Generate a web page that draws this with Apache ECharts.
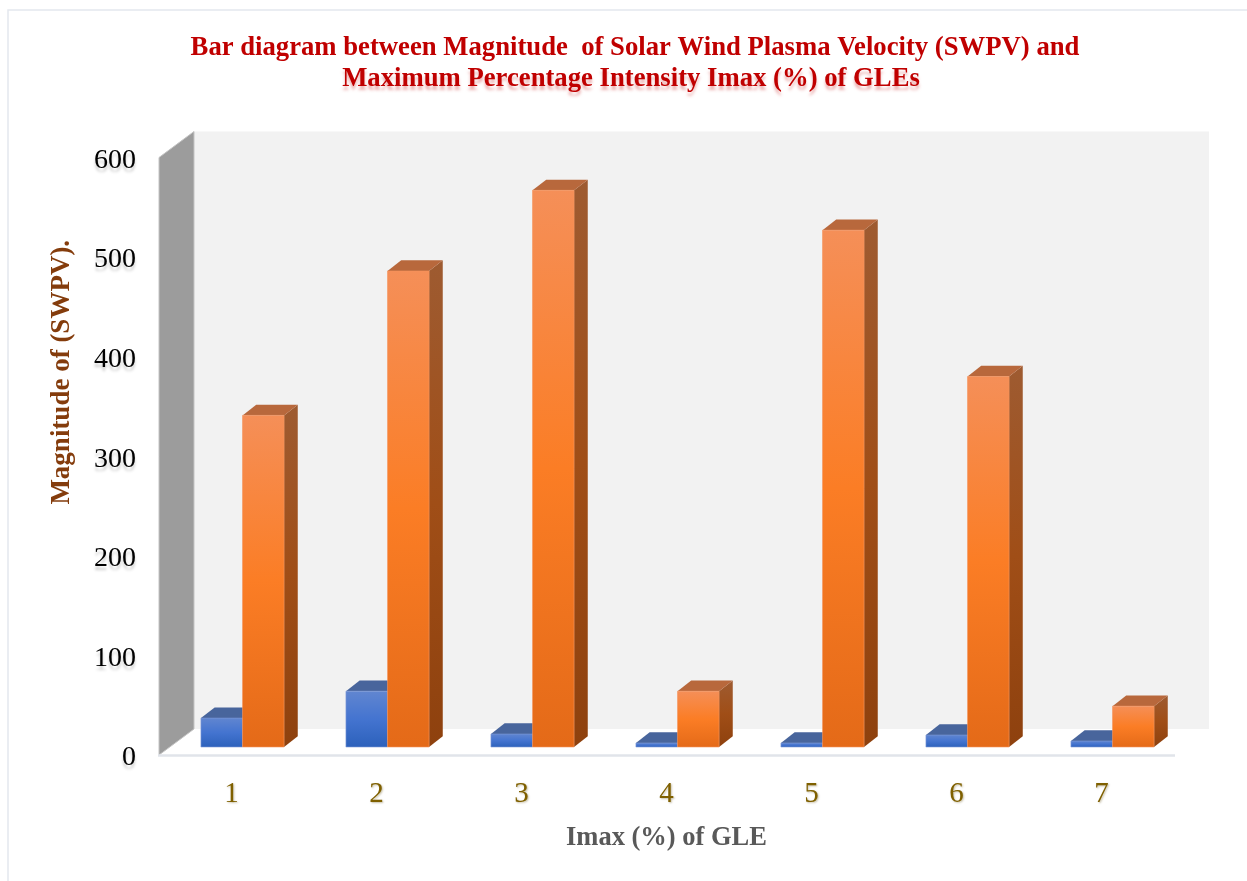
<!DOCTYPE html>
<html><head><meta charset="utf-8">
<style>html,body{margin:0;padding:0;background:#fff}#c{width:1247px;height:881px}</style>
<script src="https://cdn.jsdelivr.net/npm/echarts@6/dist/echarts.min.js"></script>
</head><body><div id="c"></div>
<script>
const categories = ['1','2','3','4','5','6','7'];
const blueValues = [29,56,13,4,4,12,6];
const orangeValues = [333,478,559,56,519,372,41];
const yTicks = [0,100,200,300,400,500,600];
const titleLine1 = 'Bar diagram between Magnitude  of Solar Wind Plasma Velocity (SWPV) and';
const titleLine2 = 'Maximum Percentage Intensity Imax (%) of GLEs';
const serif = '"Liberation Serif","Times New Roman",serif';

const wallDX = 35, wallDY = -26, barDX = 11, barDY = -8, sideDX = 13.7, sideDY = -10.7;
const grad = (stops) => ({type:'linear',x:0,y:0,x2:0,y2:1,colorStops:stops.map((c,i)=>({offset:i/(stops.length-1),color:c}))});
const palette = {
  blue:{front:['#6186d0','#4474d0','#2c61bb'],side:['#3f5f96','#2e5391','#264a85'],top:'#48659c',edge:'#7f9bd6'},
  orange:{front:['#f58f58','#fb7d25','#e46a18'],side:['#9e5b31','#a04e17','#8e410e'],top:'#b8683c',edge:'#f59660'}
};
function barRender(pal, side){
  return function(params, api){
    const b = api.coord([api.value(0),0]), t = api.coord([api.value(0),api.value(1)]);
    const band = api.size([1,0])[0], w = band*0.2866;
    const xl = b[0]+barDX+(side<0?-w:0), xr = xl+w, yb = b[1]+barDY, yt = t[1]+barDY;
    const poly = (pts,fill,stroke)=>({type:'polygon',shape:{points:pts},style:{fill,stroke:stroke||null,lineWidth:stroke?0.6:0}});
    return {type:'group',children:[
      poly([[xr,yb],[xr+sideDX,yb+sideDY],[xr+sideDX,yt+sideDY],[xr,yt]],grad(pal.side)),
      poly([[xl,yt],[xl+sideDX,yt+sideDY],[xr+sideDX,yt+sideDY],[xr,yt]],pal.top),
      poly([[xl,yb],[xr,yb],[xr,yt],[xl,yt]],grad(pal.front),pal.edge)
    ]};
  };
}
function wallRender(params, api){
  const c = params.coordSys, x0=c.x, x1=c.x+c.width, y0=c.y, y1=c.y+c.height;
  return {type:'group',children:[
    {type:'polygon',shape:{points:[[x0+wallDX,y0+wallDY],[x1+wallDX,y0+wallDY],[x1+wallDX,y1+wallDY],[x0+wallDX,y1+wallDY]]},style:{fill:'#f2f2f2'}},
    {type:'polygon',shape:{points:[[x0,y1],[x1,y1],[x1+wallDX,y1+wallDY],[x0+wallDX,y1+wallDY]]},style:{fill:'#ffffff'}},
    {type:'polygon',shape:{points:[[x0,y0],[x0+wallDX,y0+wallDY],[x0+wallDX,y1+wallDY],[x0,y1]]},style:{fill:'#9c9c9c',stroke:'#c4c4c4',lineWidth:1}},
    {type:'line',shape:{x1:x0-1,y1:y1+0.5,x2:x1+1,y2:y1+0.5},style:{stroke:'#e1e4ea',lineWidth:2.5}}
  ]};
}
const chart = echarts.init(document.getElementById('c'),null,{renderer:'canvas'});
chart.setOption({
  animation:false,
  backgroundColor:'#ffffff',
  title:{text:'{a|'+titleLine1+'}\n{b|'+titleLine2+'}',left:630,top:28,textAlign:'center',
    textStyle:{rich:{
      a:{fontFamily:serif,fontWeight:'bold',fontSize:26.7,lineHeight:31,color:'#c00000'},
      b:{fontFamily:serif,fontWeight:'bold',fontSize:26.7,lineHeight:31,color:'#c00000',padding:[0,8,0,0],textShadowColor:'rgba(192,0,0,0.3)',textShadowBlur:3,textShadowOffsetY:4}
    }}},
  grid:{left:159,top:157.5,width:1015,height:597.5},
  xAxis:{type:'category',data:categories,
    axisLine:{show:false},axisTick:{show:false},
    axisLabel:{margin:25,fontFamily:serif,fontSize:29,color:'#7f6000',textShadowColor:'rgba(90,70,0,0.35)',textShadowBlur:2,textShadowOffsetX:1,textShadowOffsetY:1},
    name:'Imax (%) of GLE',nameLocation:'middle',nameGap:70,
    nameTextStyle:{fontFamily:serif,fontWeight:'bold',fontSize:26.5,color:'#595959'}},
  yAxis:{type:'value',min:0,max:600,interval:100,
    axisLine:{show:false},axisTick:{show:false},splitLine:{show:false},
    axisLabel:{margin:23,fontFamily:serif,fontSize:28,color:'#000000',verticalAlign:'top',lineHeight:6,textShadowColor:'rgba(0,0,0,0.2)',textShadowBlur:3,textShadowOffsetY:4,
      formatter:v=>yTicks.includes(v)?String(v):''},
    name:'Magnitude of (SWPV).',nameLocation:'middle',nameGap:83,
    nameTextStyle:{fontFamily:serif,fontWeight:'bold',fontSize:27,color:'#843c0c',padding:[0,0,0,168]}},
  series:[
    {type:'custom',name:'wall',silent:true,clip:false,z:1,renderItem:wallRender,data:[[0,0]],encode:{x:0,y:1}},
    {type:'custom',name:'Imax',clip:false,z:2,renderItem:barRender(palette.blue,-1),data:blueValues.map((v,i)=>[i,v]),encode:{x:0,y:1}},
    {type:'custom',name:'SWPV',clip:false,z:3,renderItem:barRender(palette.orange,1),data:orangeValues.map((v,i)=>[i,v]),encode:{x:0,y:1}}
  ],
  graphic:[{type:'rect',silent:true,z:-1,shape:{x:8,y:10,width:1245,height:880},style:{fill:'none',stroke:'#e4e8ee',lineWidth:1.5}}]
});
</script></body></html>
